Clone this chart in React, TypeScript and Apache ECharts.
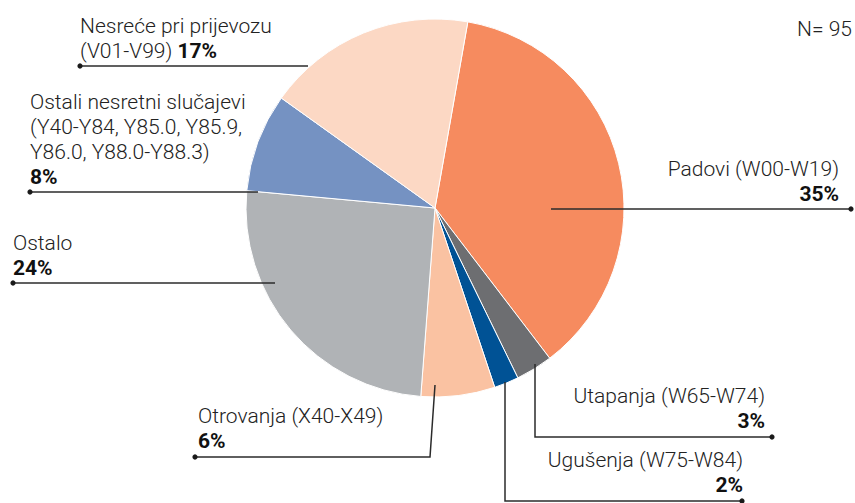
import React, { useEffect, useRef } from "react";
import * as echarts from "echarts";

// ---- data ----
const categories = [
  "Padovi (W00-W19)",
  "Utapanja (W65-W74)",
  "Ugušenja (W75-W84)",
  "Otrovanja (X40-X49)",
  "Ostalo",
  "Ostali nesretni slučajevi (Y40-Y84, Y85.0, Y85.9, Y86.0, Y88.0-Y88.3)",
  "Nesreće pri prijevozu (V01-V99)",
];
const values = [35, 3, 2, 6, 24, 8, 17];
const labelTexts = [
  ["Padovi (W00-W19)"],
  ["Utapanja (W65-W74)"],
  ["Ugušenja (W75-W84)"],
  ["Otrovanja (X40-X49)"],
  ["Ostalo"],
  ["Ostali nesretni slučajevi", "(Y40-Y84, Y85.0, Y85.9,", "Y86.0, Y88.0-Y88.3)"],
  ["Nesreće pri prijevozu", "(V01-V99)"],
];
const percentInline = [false, false, false, false, false, false, true];
const totalLabel = "N= 95";

// ---- styles / layout ----
const colors = ["#F68B5F", "#6D6E71", "#005295", "#FAC2A2", "#B0B3B6", "#7592C2", "#FCD8C4"];
const layouts = [
  { x: 839, y: 206, align: "right", pts: [[551, 209], [851, 209]] },
  { x: 765, y: 433, align: "right", pts: [[535, 364], [535, 437], [772, 437]] },
  { x: 743, y: 497, align: "right", pts: [[505, 382], [505, 501], [742, 501]] },
  { x: 198, y: 453, align: "left", pts: [[435, 385], [430, 457], [195, 457]] },
  { x: 13, y: 280, align: "left", pts: [[275, 283], [13, 283]] },
  { x: 30, y: 189, align: "left", pts: [[258, 192], [30, 192]] },
  { x: 80, y: 63, align: "left", pts: [[308, 66], [80, 66]] },
];

const FONT = "Roboto, 'Noto Sans', sans-serif";
const FS = 21;

export default function App() {
  const ref = useRef<HTMLDivElement>(null);
  useEffect(() => {
    if (!ref.current) return;
    const chart = echarts.init(ref.current, null, { renderer: "svg" });
    const data = categories.map((name, i) => ({
      name,
      value: values[i],
      itemStyle: { color: colors[i] },
    }));
    const leaders: any[] = [];
    layouts.forEach((l) => {
      leaders.push({
        type: "polyline",
        shape: { points: l.pts },
        style: { stroke: "#2b2b2b", lineWidth: 1.5, fill: null },
        z: 100,
      });
      const p = l.pts[l.pts.length - 1];
      leaders.push({
        type: "circle",
        shape: { cx: p[0], cy: p[1], r: 2.6 },
        style: { fill: "#1a1a1a" },
        z: 101,
      });
    });
    chart.setOption({
      animation: false,
      backgroundColor: "#fff",
      graphic: [
        {
          type: "text",
          right: 3,
          top: 18,
          style: {
            text: totalLabel,
            font: `300 ${FS}px ${FONT}`,
            fill: "#222",
            textAlign: "right",
          },
        },
        ...leaders,
      ],
      series: [
        {
          type: "pie",
          center: [435, 208],
          radius: 189,
          startAngle: 80,
          clockwise: true,
          avoidLabelOverlap: false,
          data,
          itemStyle: { borderColor: "#fff", borderWidth: 1 },
          emphasis: { disabled: true },
          label: {
            show: true,
            position: "outside",
            fontFamily: FONT,
            fontSize: FS,
            fontWeight: 300,
            color: "#222",
            lineHeight: 25,
            formatter: (p: any) => {
              const i = p.dataIndex;
              const lines = labelTexts[i].slice();
              const pct = `{b|${values[i]}%}`;
              if (percentInline[i]) {
                lines[lines.length - 1] = lines[lines.length - 1] + " " + pct;
              } else {
                lines.push(pct);
              }
              return lines.join("\n");
            },
            rich: {
              b: {
                fontFamily: FONT,
                fontSize: FS,
                fontWeight: "bold",
                color: "#111",
                lineHeight: 25,
              },
            },
          },
          labelLine: { show: false },
          labelLayout: (params: any) => {
            const l = layouts[params.dataIndex];
            return {
              x: l.x,
              y: l.y,
              align: l.align,
              verticalAlign: "bottom",
            };
          },
        },
      ],
    });
    return () => chart.dispose();
  }, []);
  return (
    <div
      ref={ref}
      style={{ position: "fixed", left: 0, top: 0, width: 855, height: 503 }}
    />
  );
}
